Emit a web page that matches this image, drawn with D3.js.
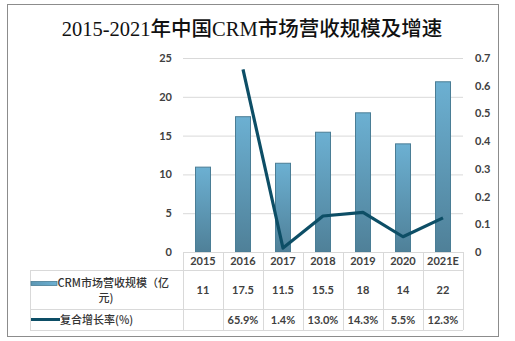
<!DOCTYPE html>
<html><head><meta charset="utf-8">
<script src="https://cdn.jsdelivr.net/npm/d3@7/dist/d3.min.js"></script>
<style>body{margin:0;background:#fff}</style>
</head><body>
<script>
const categories = ["2015","2016","2017","2018","2019","2020","2021E"];
const revenue = [11, 17.5, 11.5, 15.5, 18, 14, 22];
const growth = [null, 0.659, 0.014, 0.130, 0.143, 0.055, 0.123];
const growthLabels = ["", "65.9%", "1.4%", "13.0%", "14.3%", "5.5%", "12.3%"];
const leftTicks = [0,5,10,15,20,25];
const rightTicks = [0,0.1,0.2,0.3,0.4,0.5,0.6,0.7];
const seriesNames = ["CRM市场营收规模（亿", "元)", "复合增长率(%)"];
const title = "2015-2021年中国CRM市场营收规模及增速";

const W=515,H=341;
const svg=d3.select("body").append("svg").attr("width",W).attr("height",H);
const latin="Lato, 'Noto Sans CJK SC', sans-serif";
const cjk="'Noto Sans CJK SC', sans-serif";

svg.append("rect").attr("x",7.5).attr("y",4.5).attr("width",491).attr("height",332)
  .attr("fill","#fff").attr("stroke","#8c8c8c").attr("stroke-width",1);

svg.append("text").attr("x",252).attr("y",36).attr("text-anchor","middle")
  .attr("font-family","'Liberation Serif','Noto Sans CJK SC',serif").attr("font-size",20.5)
  .attr("font-weight","500").attr("fill","#111").text(title);

const x0=183,x1=463,yTop=58,yBot=252;
const x=d3.scaleBand().domain(categories).range([x0,x1]);
const yL=d3.scaleLinear().domain([0,25]).range([yBot,yTop]);
const yR=d3.scaleLinear().domain([0,0.7]).range([yBot,yTop]);

// gridlines
svg.append("g").selectAll("line").data(leftTicks.filter(d=>d>0)).join("line")
  .attr("x1",x0).attr("x2",x1).attr("y1",d=>yL(d)+0.5).attr("y2",d=>yL(d)+0.5)
  .attr("stroke","#d9d9d9");

// left axis
const gl=svg.append("g").attr("transform",`translate(${x0},0)`)
  .call(d3.axisLeft(yL).tickValues(leftTicks).tickSize(0).tickPadding(11));
gl.select(".domain").remove();
gl.selectAll("text").attr("font-family",latin).attr("font-size",11).attr("font-weight","bold").attr("fill","#404040");

const gr=svg.append("g").attr("transform",`translate(${x1},0)`)
  .call(d3.axisRight(yR).tickValues(rightTicks).tickSize(0).tickPadding(12).tickFormat(d=>d===0?"0":d3.format(".1f")(d)));
gr.select(".domain").remove();
gr.selectAll("text").attr("font-family",latin).attr("font-size",11).attr("font-weight","bold").attr("fill","#404040");

// gradient
const defs=svg.append("defs");
const grad=defs.append("linearGradient").attr("id","bg").attr("x1",0).attr("x2",0).attr("y1",0).attr("y2",1);
grad.append("stop").attr("offset","0%").attr("stop-color","#6cb0d2");
grad.append("stop").attr("offset","100%").attr("stop-color","#4f8098");
const gradH=defs.append("linearGradient").attr("id","bgh").attr("x1",0).attr("x2",1).attr("y1",0).attr("y2",0);
gradH.append("stop").attr("offset","0%").attr("stop-color","#5d97b4");
gradH.append("stop").attr("offset","100%").attr("stop-color","#6cb0d2");

const bw=16;
svg.append("g").selectAll("rect").data(revenue).join("rect")
  .attr("x",(d,i)=>x(categories[i])+x.bandwidth()/2-bw/2+0.5)
  .attr("y",d=>yL(d)+0.5).attr("width",bw-1).attr("height",d=>yBot-yL(d)-0.5)
  .attr("fill","url(#bg)").attr("stroke","#4a7d95").attr("stroke-width",1);

// line
const pts=growth.map((v,i)=>({v,c:categories[i]})).filter(d=>d.v!==null);
svg.append("path").datum(pts)
  .attr("d",d3.line().x(d=>x(d.c)+x.bandwidth()/2).y(d=>yR(d.v)))
  .attr("fill","none").attr("stroke","#0d4e66").attr("stroke-width",3.2).attr("stroke-linejoin","round");

// table
const tc="#d9d9d9", tl=30;
const rowY=[252,270,309,330];
const t=svg.append("g").attr("stroke",tc).attr("stroke-width",1);
t.append("line").attr("x1",x0).attr("x2",x1).attr("y1",rowY[0]+0.5).attr("y2",rowY[0]+0.5);
[1,2,3].forEach(k=>t.append("line").attr("x1",tl).attr("x2",x1).attr("y1",rowY[k]+0.5).attr("y2",rowY[k]+0.5));
t.append("line").attr("x1",tl+0.5).attr("x2",tl+0.5).attr("y1",rowY[1]).attr("y2",rowY[3]);
categories.forEach(c=>t.append("line").attr("x1",x(c)+0.5).attr("x2",x(c)+0.5).attr("y1",rowY[0]).attr("y2",rowY[3]));
t.append("line").attr("x1",x1+0.5).attr("x2",x1+0.5).attr("y1",rowY[0]).attr("y2",rowY[3]);

const tf=(sel)=>sel.attr("font-family",latin).attr("font-size",11).attr("font-weight","bold").attr("fill","#404040").attr("text-anchor","middle");
svg.append("g").selectAll("text").data(categories).join("text").call(tf)
  .attr("x",d=>x(d)+x.bandwidth()/2).attr("y",265).text(d=>d);
svg.append("g").selectAll("text").data(revenue).join("text").call(tf)
  .attr("x",(d,i)=>x(categories[i])+x.bandwidth()/2).attr("y",294).text(d=>d);
svg.append("g").selectAll("text").data(growthLabels).join("text").call(tf)
  .attr("x",(d,i)=>x(categories[i])+x.bandwidth()/2).attr("y",323.5).text(d=>d);

// legend
svg.append("rect").attr("x",31).attr("y",281.5).attr("width",26).attr("height",4)
  .attr("fill","url(#bgh)").attr("stroke","#4a7d95").attr("stroke-width",0.8);
svg.append("text").attr("x",57.5).attr("y",287).attr("font-family",cjk).attr("font-size",11).attr("font-weight","500").attr("fill","#333").text(seriesNames[0]);
svg.append("text").attr("x",106).attr("y",302).attr("text-anchor","middle").attr("font-family",cjk).attr("font-size",11).attr("font-weight","500").attr("fill","#333").text(seriesNames[1]);
svg.append("line").attr("x1",31).attr("x2",60).attr("y1",319.5).attr("y2",319.5).attr("stroke","#0d4e66").attr("stroke-width",3);
svg.append("text").attr("x",60).attr("y",323.5).attr("font-family",cjk).attr("font-size",11).attr("font-weight","500").attr("fill","#333").text(seriesNames[2]);
</script>
</body></html>
